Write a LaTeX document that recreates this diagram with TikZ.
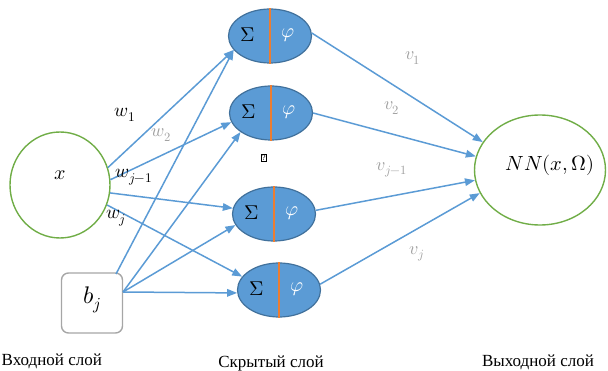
\documentclass[tikz,border=0pt]{standalone}
\usepackage{fontspec}
\usepackage{unicode-math}
\setmainfont{Liberation Serif}
\setmathfont{Latin Modern Math}
\usetikzlibrary{shapes.geometric,arrows.meta}
\definecolor{lblue}{HTML}{5B9BD5}
\definecolor{hborder}{HTML}{41719C}
\definecolor{divor}{HTML}{ED7D31}
\definecolor{lgreen}{HTML}{70AD47}
\definecolor{boxgray}{HTML}{A6A6A6}
\definecolor{lblgray}{HTML}{A0A0A0}
\begin{document}
\begin{tikzpicture}[x=1pt,y=-1pt,
  conn/.style={draw=lblue,line width=1.5pt,-{Triangle[length=10pt,width=7.5pt]}},
  hid/.style={ellipse,draw=hborder,fill=lblue,line width=1.2pt,minimum width=83pt,minimum height=54pt,inner sep=0pt},
  divline/.style={draw=divor,line width=1.1pt},
  sig/.style={font=\fontsize{20}{20}\selectfont,text=black},
  phi/.style={font=\fontsize{20}{20}\selectfont,text=white},
  wlbl/.style={font=\fontsize{19}{19}\selectfont,text=black,inner sep=0pt},
  glbl/.style={font=\fontsize{18}{18}\selectfont,text=lblgray,inner sep=0pt},
  layer/.style={font=\fontsize{17}{17}\selectfont,inner sep=0pt}]
\useasboundingbox (0,0) rectangle (608,371);

% input
\node[ellipse,draw=lgreen,line width=1.4pt,minimum width=100pt,minimum height=106pt,inner sep=0pt] (x) at (60,185) {};
\node[font=\fontsize{20}{20}\selectfont] (xl) at (60,175) {$x$};
\node[draw=boxgray,rounded corners=7pt,line width=1.4pt,minimum width=61pt,minimum height=60pt,inner sep=0pt] (b) at (92,303) {};
\node[font=\fontsize{24}{24}\selectfont] (bl) at (92,300) {$b_j$};

% hidden
\foreach \n/\px/\py in {1/270/36,2/271/113,3/274/214,4/279/290}{
  \node[hid] (h\n) at (\px,\py) {};
  \draw[divline] (h\n.north) -- (h\n.south);
  \node[sig] (s\n) at ([xshift=-22pt,yshift=1pt]h\n.center) {$\Sigma$};
  \node[phi] (p\n) at ([xshift=18pt,yshift=1pt]h\n.center) {$\varphi$};
}
\node[draw=black,line width=0.6pt,inner sep=0.8pt,font=\fontsize{8}{8}\selectfont] (q) at (264,158) {?};

% output
\node[ellipse,draw=lgreen,line width=1.4pt,minimum width=131pt,minimum height=110pt,inner sep=0pt] (o) at (540,170) {};
\node[font=\fontsize{20.5}{20.5}\selectfont] (ol) at (550,165) {$NN(x,\Omega)$};

% input -> hidden
\draw[conn] (x.20) -- (h1.201);
\draw[conn] (x.6) -- (h2.193);
\draw[conn] (x.-9) -- (h3.172);
\draw[conn] (x.-23) -- (h4.160);
% bias -> hidden
\coordinate (bt) at (116,274);
\coordinate (br) at (123,292);
\draw[conn] (bt) -- (h1.201);
\draw[conn] (br) -- (h2.212);
\draw[conn] (br) -- (h3.196);
\draw[conn] (br) -- (h4.184);

% hidden -> output
\draw[conn] (h1.4) -- (o.154);
\draw[conn] (h2.0) -- (o.168);
\draw[conn] (h3.5) -- (o.189);
\draw[conn] (h4.8) -- (o.201);

% weight labels
\node[wlbl] (w1) at (125,115) {$w_1$};
\node[glbl] (w2) at (161,135) {$w_2$};
\node[wlbl] (wj1) at (134,177) {$w_{j-1}$};
\node[wlbl] (wj) at (116,218) {$w_j$};
\node[glbl] (v1) at (413,58) {$v_1$};
\node[glbl] (v2) at (392,108) {$v_2$};
\node[glbl] (vj1) at (392,170) {$v_{j-1}$};
\node[glbl] (vj) at (417,254) {$v_j$};

% layer labels
\node[layer,anchor=west] (lin) at (1.5,361) {Входной слой};
\node[layer] (lhid) at (271,363) {Скрытый слой};
\node[layer] (lout) at (538,362) {Выходной слой};
\end{tikzpicture}
\end{document}
